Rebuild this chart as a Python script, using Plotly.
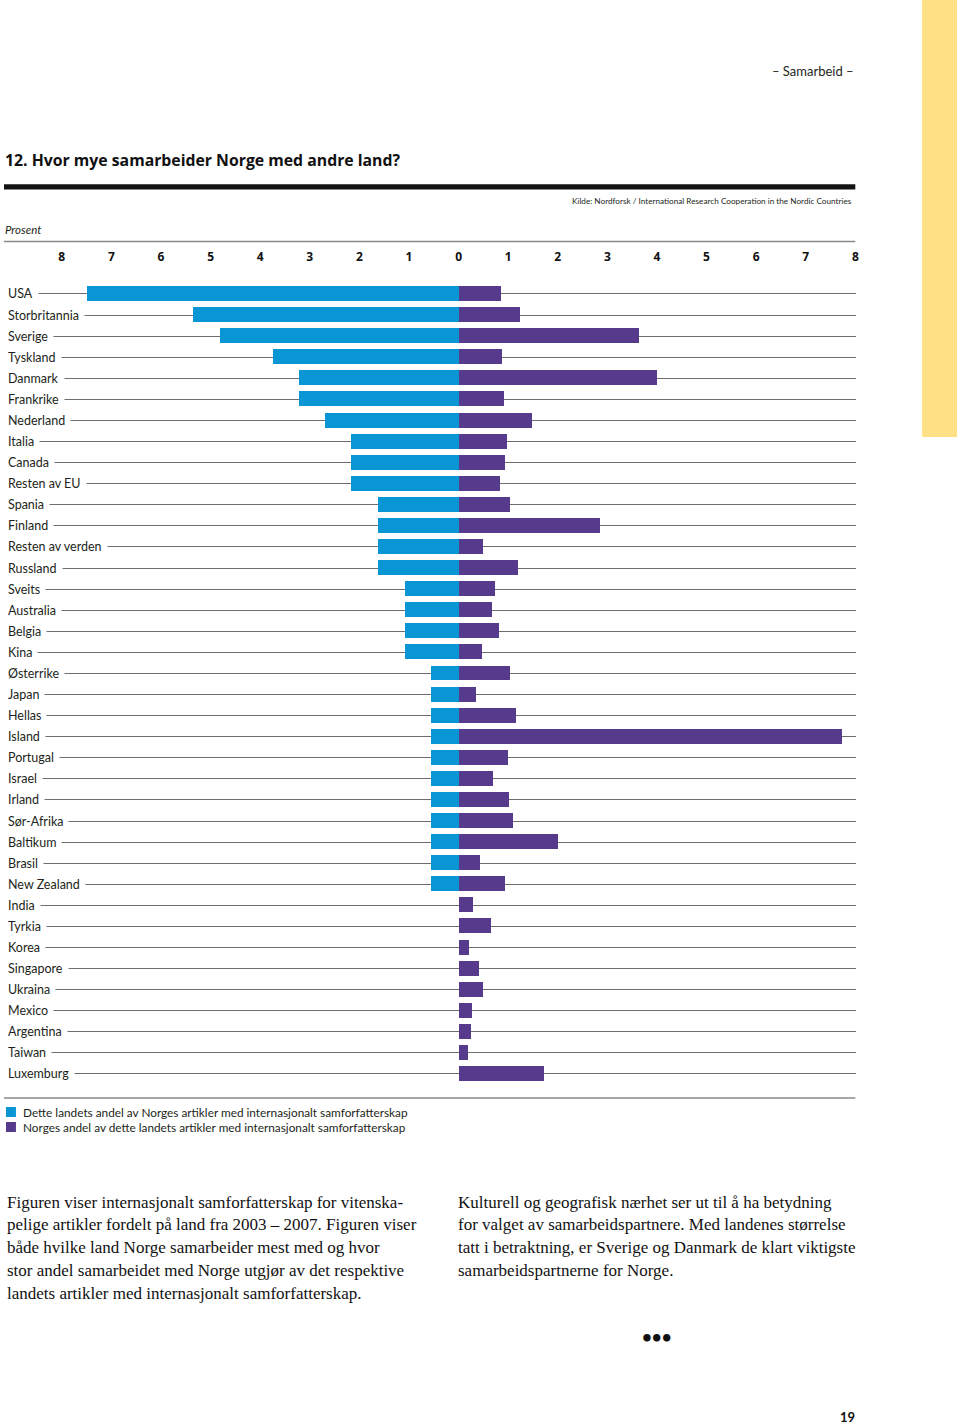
import plotly.graph_objects as go

countries = ["USA", "Storbritannia", "Sverige", "Tyskland", "Danmark", "Frankrike", "Nederland",
             "Italia", "Canada", "Resten av EU", "Spania", "Finland", "Resten av verden", "Russland",
             "Sveits", "Australia", "Belgia", "Kina", "Østerrike", "Japan", "Hellas", "Island",
             "Portugal", "Israel", "Irland", "Sør-Afrika", "Baltikum", "Brasil", "New Zealand",
             "India", "Tyrkia", "Korea", "Singapore", "Ukraina", "Mexico", "Argentina", "Taiwan",
             "Luxemburg"]

# Share of Norway's internationally co-authored articles (blue, drawn to the left)
country_share = [7.5, 5.36, 4.82, 3.75, 3.22, 3.22, 2.69,
                 2.16, 2.16, 2.16, 1.62, 1.62, 1.62, 1.62,
                 1.09, 1.09, 1.09, 1.09, 0.55, 0.55, 0.55, 0.55,
                 0.55, 0.55, 0.55, 0.55, 0.55, 0.55, 0.55,
                 0, 0, 0, 0, 0, 0, 0, 0,
                 0]

# Norway's share of the country's internationally co-authored articles (purple, right)
norway_share = [0.85, 1.24, 3.63, 0.88, 4.01, 0.92, 1.48,
                0.97, 0.94, 0.84, 1.03, 2.85, 0.50, 1.20,
                0.74, 0.68, 0.82, 0.47, 1.03, 0.36, 1.15, 7.73,
                1.00, 0.69, 1.01, 1.09, 2.00, 0.44, 0.93,
                0.29, 0.65, 0.21, 0.42, 0.50, 0.27, 0.26, 0.18,
                1.73]

tick_values = [-8, -7, -6, -5, -4, -3, -2, -1, 0, 1, 2, 3, 4, 5, 6, 7, 8]
tick_labels = ["8", "7", "6", "5", "4", "3", "2", "1", "0", "1", "2", "3", "4", "5", "6", "7", "8"]

series_names = ["Dette landets andel av Norges artikler med internasjonalt samforfatterskap",
                "Norges andel av dette landets artikler med internasjonalt samforfatterskap"]

title_text = "12. Hvor mye samarbeider Norge med andre land?"
source_text = "Kilde: Nordforsk / International Research Cooperation in the Nordic Countries"
header_text = "– Samarbeid –"
axis_title = "Prosent"
left_par = ["Figuren viser internasjonalt samforfatterskap for vitenska-",
            "pelige artikler fordelt på land fra 2003 – 2007. Figuren viser",
            "både hvilke land Norge samarbeider mest med og hvor",
            "stor andel samarbeidet med Norge utgjør av det respektive",
            "landets artikler med internasjonalt samforfatterskap."]
right_par = ["Kulturell og geografisk nærhet ser ut til å ha betydning",
             "for valget av samarbeidspartnere. Med landenes størrelse",
             "tatt i betraktning, er Sverige og Danmark de klart viktigste",
             "samarbeidspartnerne for Norge."]

BLUE = "#0A96D4"
PURPLE = "#563A8C"
W, H = 960, 1426
SANS = "Lato, 'Open Sans', sans-serif"
SERIF = "'Liberation Serif', serif"


def px(x):
    return x / W


def py(y):
    return 1 - y / H


fig = go.Figure()
fig.add_trace(go.Bar(y=countries, x=[-v for v in country_share], orientation="h",
                     marker=dict(color=BLUE, line=dict(width=0)), width=0.71,
                     name=series_names[0], showlegend=False, hoverinfo="skip"))
fig.add_trace(go.Bar(y=countries, x=norway_share, orientation="h",
                     marker=dict(color=PURPLE, line=dict(width=0)), width=0.71,
                     name=series_names[1], showlegend=False, hoverinfo="skip"))

row_h = (1074 - 294) / 37
y_top = 294 - row_h / 2
y_bot = 1074 + row_h / 2
x0_px, x1_px, zero_px, unit = 4, 859, 460, 49.75

fig.update_layout(
    width=W, height=H, margin=dict(l=0, r=0, t=0, b=0),
    paper_bgcolor="white", plot_bgcolor="white",
    barmode="overlay", bargap=0,
    font=dict(family=SANS, color="#231f20"),
    xaxis=dict(domain=[px(x0_px), px(x1_px)],
               range=[(x0_px - zero_px) / unit, (x1_px - zero_px) / unit],
               side="top", tickvals=tick_values, ticktext=tick_labels,
               ticks="outside", ticklen=17, tickcolor="rgba(0,0,0,0)",
               tickfont=dict(family="'Open Sans', Lato, sans-serif", size=12, color="#111", weight="bold"),
               showgrid=False, zeroline=False, showline=False, fixedrange=True),
    yaxis=dict(domain=[py(y_bot), py(y_top)], categoryorder="array",
               categoryarray=countries, range=[len(countries) - 0.5, -0.5],
               showticklabels=False, ticks="", showgrid=True,
               gridcolor="#6e6e6e", gridwidth=1.4, zeroline=False, showline=False),
)

shapes = [
    dict(type="rect", xref="paper", yref="paper", x0=px(925), x1=1, y0=py(437), y1=1,
         fillcolor="#FFE085", line=dict(width=0), layer="below"),
    dict(type="rect", xref="paper", yref="paper", x0=px(4), x1=px(858), y0=py(189.5), y1=py(184.2),
         fillcolor="#141414", line=dict(width=0)),
    dict(type="line", xref="paper", yref="paper", x0=px(4), x1=px(858), y0=py(241.5), y1=py(241.5),
         line=dict(color="#8a8a8a", width=1.5)),
    dict(type="line", xref="paper", yref="paper", x0=px(4), x1=px(858), y0=py(1098), y1=py(1098),
         line=dict(color="#8a8a8a", width=1.5)),
    dict(type="rect", xref="paper", yref="paper", x0=px(6), x1=px(16), y0=py(1117), y1=py(1107),
         fillcolor=BLUE, line=dict(width=0)),
    dict(type="rect", xref="paper", yref="paper", x0=px(6), x1=px(16), y0=py(1132), y1=py(1122),
         fillcolor=PURPLE, line=dict(width=0)),
]

ann = []
for c in countries:
    ann.append(dict(x=px(2), y=c, xref="paper", yref="y", text=c, showarrow=False,
                    xanchor="left", yanchor="middle", bgcolor="white", borderpad=5,
                    font=dict(family=SANS, size=12.5, color="#231f20")))

ann += [
    dict(x=px(3), y=py(160), text=title_text,
         font=dict(family="'Open Sans', Lato, sans-serif", size=15.8, color="#111", weight="bold"),
         xanchor="left"),
    dict(x=px(857), y=py(201), text=source_text, font=dict(family=SANS, size=8.2, color="#231f20"),
         xanchor="right"),
    dict(x=px(3), y=py(230), text=axis_title, font=dict(family=SANS, size=11.5, color="#231f20", style="italic"),
         xanchor="left"),
    dict(x=px(859), y=py(71), text=header_text, font=dict(family=SANS, size=13, color="#231f20"),
         xanchor="right"),
    dict(x=px(21), y=py(1112), text=series_names[0], font=dict(family=SANS, size=11.8, color="#231f20"),
         xanchor="left"),
    dict(x=px(21), y=py(1127), text=series_names[1], font=dict(family=SANS, size=11.8, color="#231f20"),
         xanchor="left"),
    dict(x=px(659), y=py(1336), text="•••", font=dict(family=SANS, size=17, color="#111", weight="bold"),
         xanchor="center"),
    dict(x=px(860), y=py(1417), text="19", font=dict(family=SANS, size=13, color="#111", weight="bold"),
         xanchor="right"),
]
for i, line in enumerate(left_par):
    ann.append(dict(x=px(5), y=py(1202 + i * 22.75), text=line, xanchor="left",
                    font=dict(family=SERIF, size=17.0, color="#111")))
for i, line in enumerate(right_par):
    ann.append(dict(x=px(457), y=py(1202 + i * 22.75), text=line, xanchor="left",
                    font=dict(family=SERIF, size=17.0, color="#111")))

for a in ann:
    a.setdefault("xref", "paper")
    a.setdefault("yref", "paper")
    a.setdefault("showarrow", False)
    a.setdefault("yanchor", "middle")

fig.update_layout(shapes=shapes, annotations=ann)
fig.write_html("out.html")
